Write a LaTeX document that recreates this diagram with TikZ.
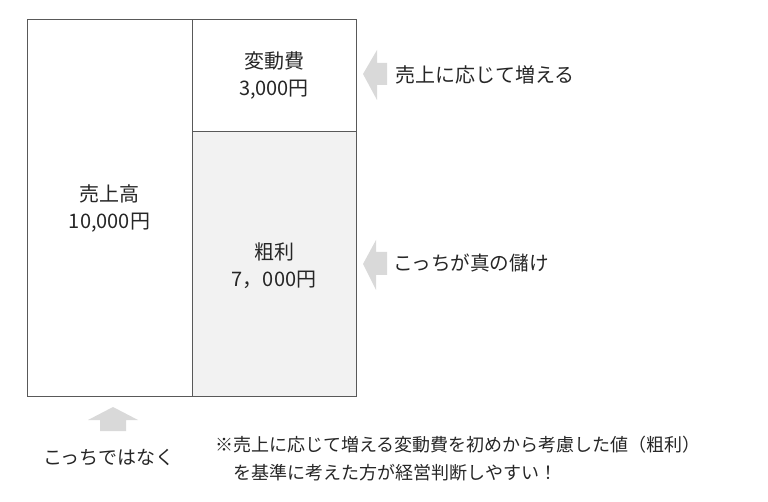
\documentclass[tikz,border=0pt]{standalone}
\usepackage{fontspec}
\setmainfont{Noto Sans CJK JP}
\begin{document}
\begin{tikzpicture}[x=1pt,y=-1pt,
  boxline/.style={draw=black!65, line width=0.9pt},
  lbl/.style={font=\fontsize{20}{27}\selectfont, text=black!85, align=center, inner sep=0pt},
  note/.style={font=\fontsize{18}{28}\selectfont, text=black!85, align=left, inner sep=0pt, anchor=west},
  garrow/.style={fill=black!15, draw=none}]
\useasboundingbox (0,0) rectangle (768,502);
% boxes
\path[boxline, fill=white] (27,19.5) rectangle (192,396);
\path[boxline, fill=white] (192,19.5) rectangle (356,131);
\path[boxline, fill=black!5] (192,131) rectangle (356,396);
% labels in boxes
\node[lbl] (uriage) at (109.5,208) {売上高\\10,000円};
\node[lbl] (hendo) at (274,76) {変動費\\3,000円};
\node[lbl] (arari) at (274,266) {粗利\\7，000円};
% arrows
\path[garrow] (363,74) -- (377,50) -- (377,63) -- (387,63) -- (387,85) -- (377,85) -- (377,100) -- cycle;
\path[garrow] (363,264) -- (376,240) -- (376,252) -- (387,252) -- (387,275) -- (376,275) -- (376,290) -- cycle;
\path[garrow] (113,407) -- (138,420) -- (126,420) -- (126,431) -- (100,431) -- (100,420) -- (88,420) -- cycle;
% side notes
\node[note, font=\fontsize{20}{27}\selectfont] (n1) at (395,75) {売上に応じて増える};
\node[note, font=\fontsize{19.6}{27}\selectfont] (n2) at (393,263) {こっちが真の儲け};
\node[note, font=\fontsize{19}{27}\selectfont] (n3) at (43,457) {こっちではなく};
\node[note] (n4) at (215,445) {※売上に応じて増える変動費を初めから考慮した値（粗利）};
\node[note] (n5) at (233,473) {を基準に考えた方が経営判断しやすい！};
\end{tikzpicture}
\end{document}
